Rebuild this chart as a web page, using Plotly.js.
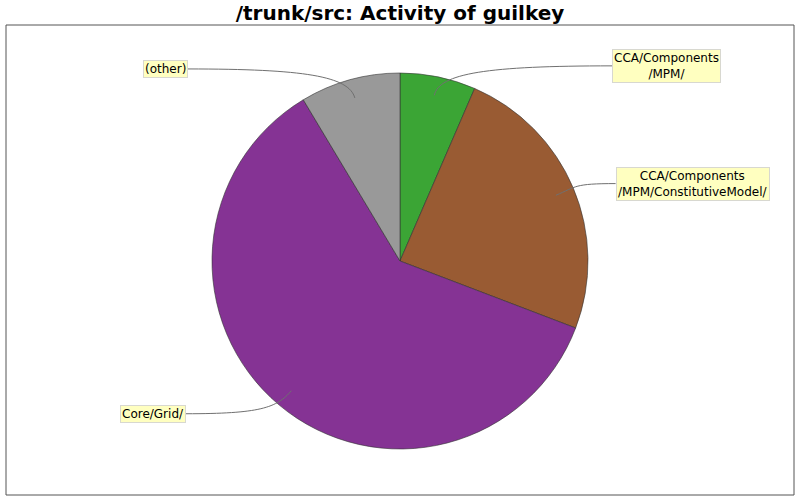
<!DOCTYPE html>
<html>
<head>
<meta charset="utf-8">
<script src="https://cdn.plot.ly/plotly-3.0.1.min.js"></script>
<style>
  html, body { margin: 0; padding: 0; background: #fff; }
  #chart { width: 800px; height: 500px; }
</style>
</head>
<body>
<div id="chart"></div>
<script>
// slices, clockwise from 12 o'clock
const labels = ["CCA/Components/MPM/", "CCA/Components/MPM/ConstitutiveModel/", "Core/Grid/", "(other)"];
const boxText = ["CCA/Components<br>/MPM/", "CCA/Components<br>/MPM/ConstitutiveModel/", "Core/Grid/", "(other)"];
const values = [6.5, 24.3, 60.6, 8.6];
const colors = ["#3ba535", "#995b33", "#853394", "#999999"];

const W = 800, H = 500;
const cx = 400, cy = 261, r = 188;

const px = (x) => x / W;
const py = (y) => 1 - y / H;

// pie domain so that the circle sits where the original one did
const domain = {
  x: [px(cx - r), px(cx + r)],
  y: [py(cy + r), py(cy - r)],
};

const total = values.reduce((a, b) => a + b, 0);
const annotations = [];
const shapes = [
  {
    type: "rect", xref: "paper", yref: "paper",
    x0: px(6), x1: px(794), y0: py(495), y1: py(25),
    line: { color: "#555555", width: 1 },
    fillcolor: "rgba(0,0,0,0)",
    layer: "below",
  },
];

let start = 0;
values.forEach((v, i) => {
  const mid = (start + v / 2) / total * 2 * Math.PI; // from top, clockwise
  start += v;
  const s = Math.sin(mid), c = Math.cos(mid);
  const right = s >= 0;

  const p0 = [cx + 0.9 * r * s, cy - 0.9 * r * c];
  const c1 = [cx + 1.02 * r * s, cy - 1.02 * r * c];
  const ly = cy - 1.06 * r * c;
  const edge = right ? cx + 211 + 5 * Math.abs(s) : cx - 211 - 5 * Math.abs(s);
  const c2 = [p0[0] + (edge - p0[0]) * 0.3, ly];

  shapes.push({
    type: "path", xref: "paper", yref: "paper",
    path: `M ${px(p0[0])},${py(p0[1])} C ${px(c1[0])},${py(c1[1])} ${px(c2[0])},${py(c2[1])} ${px(edge)},${py(ly)}`,
    line: { color: "#707070", width: 1 },
    layer: "above",
  });

  annotations.push({
    xref: "paper", yref: "paper",
    x: px(edge), y: py(ly),
    xanchor: right ? "left" : "right",
    yanchor: "middle",
    text: boxText[i],
    showarrow: false,
    align: "center",
    font: { family: "DejaVu Sans", size: 12, color: "#000000" },
    bgcolor: "#ffffc0",
    bordercolor: "#d8d8d0",
    borderwidth: 1,
    borderpad: 1,
  });
});

const trace = {
  type: "pie",
  labels: labels,
  values: values,
  sort: false,
  direction: "clockwise",
  rotation: 0,
  textinfo: "none",
  hoverinfo: "label+percent",
  marker: { colors: colors, line: { color: "#333333", width: 0.6 } },
  domain: domain,
  showlegend: false,
};

const layout = {
  width: W,
  height: H,
  margin: { l: 0, r: 0, t: 0, b: 0 },
  paper_bgcolor: "#ffffff",
  plot_bgcolor: "#ffffff",
  title: {
    text: "<b>/trunk/src: Activity of guilkey</b>",
    font: { family: "DejaVu Sans", size: 20, color: "#000000" },
    x: 0.5, xanchor: "center",
    y: py(13), yanchor: "middle",
  },
  shapes: shapes,
  annotations: annotations,
  showlegend: false,
};

Plotly.newPlot("chart", [trace], layout, { displayModeBar: false, staticPlot: true });
</script>
</body>
</html>
